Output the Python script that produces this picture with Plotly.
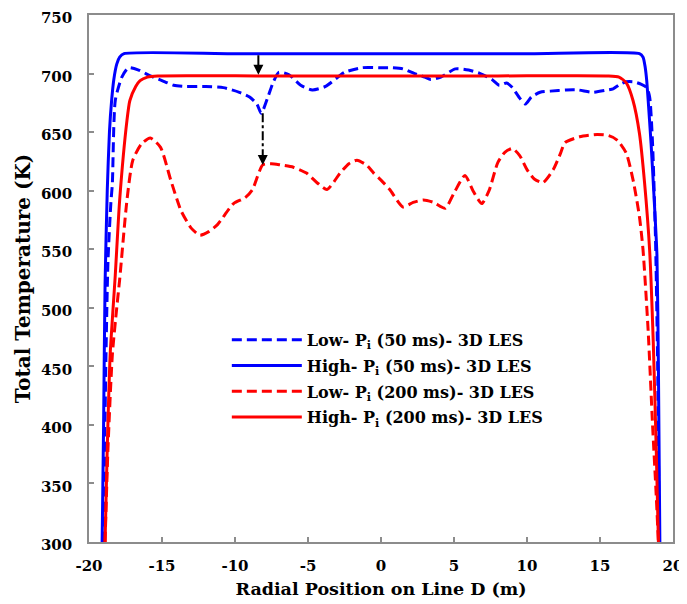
import plotly.graph_objects as go

# ---------------- data ----------------
x_ticks = [-20, -15, -10, -5, 0, 5, 10, 15, 20]
x_ticktext = ["-20", "-15", "-10", "-5", "0", "5", "10", "15", "20"]
y_ticks = [300, 350, 400, 450, 500, 550, 600, 650, 700, 750]

series_names = [
    "Low- P<sub>i</sub> (50 ms)- 3D LES",
    "High- P<sub>i</sub> (50 ms)- 3D LES",
    "Low- P<sub>i</sub> (200 ms)- 3D LES",
    "High- P<sub>i</sub> (200 ms)- 3D LES",
]

low50_x = [-19.0, -18.85, -18.7, -18.5, -18.4, -18.2, -17.75, -17.3, -16.6, -15.8, -15.0, -14.2,
           -13.5, -12.0, -10.8, -9.7, -9.0, -8.5, -8.2, -7.8, -7.4, -7.0, -6.3, -5.5, -4.7, -3.8,
           -2.5, -1.3, 0.0, 0.8, 1.5, 2.3, 3.0, 3.4, 4.1, 5.1, 6.0, 6.8, 7.6, 8.1, 8.6, 9.0, 9.5,
           9.9, 10.3, 10.9, 11.6, 12.7, 13.5, 14.5, 15.5, 15.9, 16.4, 16.8, 17.3, 17.8, 18.2, 18.4,
           18.6, 18.8, 18.95, 19.05]
low50_y = [300, 450, 540, 590, 606, 677, 697, 705, 703, 698, 694, 690,
           689, 689, 688, 684, 680, 674, 666, 678, 692, 701, 699, 690, 686, 689,
           701, 705, 705, 705, 704, 700, 697, 695, 697, 704, 703, 700, 695, 690, 692, 688, 679,
           674, 680, 684, 685, 686, 686, 684, 686, 687, 691, 693, 693, 691, 688, 680,
           640, 560, 450, 300]

high50_x = [-19.1, -19.0, -18.9, -18.75, -18.6, -18.45, -18.3, -18.1, -17.9, -17.6, -10.0, 0.0,
            10.0, 17.7, 17.95, 18.1, 18.2, 18.3, 18.5, 18.7, 18.9, 19.0, 19.1]
high50_y = [300, 400, 520, 600, 650, 677, 695, 708, 714, 717, 717, 717,
            717, 717, 714, 705, 694, 677, 640, 595, 545, 450, 300]

low200_x = [-18.9, -18.7, -18.4, -18.1, -17.9, -17.4, -17.0, -16.4, -15.8, -15.1, -14.4, -13.7,
            -13.0, -12.4, -11.8, -11.2, -10.1, -9.3, -8.8, -8.1, -7.5, -6.9, -6.0, -5.1, -4.4,
            -3.7, -2.8, -2.2, -1.65, -1.0, -0.5, 0.0, 0.6, 1.5, 2.2, 2.9, 3.6, 4.4, 5.0, 5.75,
            6.3, 6.9, 7.4, 8.0, 8.5, 9.0, 9.5, 10.0, 10.5, 11.1, 11.8, 12.3, 12.6, 13.6, 14.8,
            15.6, 16.2, 16.8, 17.3, 17.7, 17.95, 18.3, 18.6, 18.85, 19.0]
low200_y = [300, 380, 460, 500, 524, 592, 626, 640, 645, 637, 609, 583,
            568, 562, 565, 571, 589, 594, 601, 622, 623, 622, 620, 615, 607,
            601, 615, 623, 626, 622, 615, 609, 601, 586, 590, 592, 590, 585, 598, 613,
            600, 589, 600, 624, 633, 636, 630, 618, 610, 607, 618, 632, 641, 646, 648,
            647, 643, 632, 607, 578, 549, 480, 400, 340, 300]

high200_x = [-18.9, -18.75, -18.55, -18.2, -17.9, -17.4, -17.2, -16.8, -16.5, -16.0, -15.3, -8.0,
             0.0, 8.0, 15.5, 16.3, 16.8, 17.26, 17.7, 18.05, 18.4, 18.65, 18.85, 19.0]
high200_y = [300, 380, 460, 528, 592, 660, 677, 689, 694, 697, 698, 698,
             698, 698, 698, 697, 692, 677, 649, 607, 549, 470, 380, 300]

# arrows: (x, y_start, y_end)
arrow_solid = (-8.4, 717, 699)
arrow_dashed = (-8.1, 666, 622)

BLUE = "#0000FF"
RED = "#FF0000"
FONT = "DejaVu Serif"

fig = go.Figure()
styles = [
    (low50_x, low50_y, BLUE, "10px,5px"),
    (high50_x, high50_y, BLUE, "solid"),
    (low200_x, low200_y, RED, "10px,5px"),
    (high200_x, high200_y, RED, "solid"),
]
for i, (name, (xs, ys, col, dash)) in enumerate(zip(series_names, styles)):
    fig.add_trace(go.Scatter(
        x=xs, y=ys, name=name, mode="lines", legendgroup=f"g{i}",
        line=dict(color=col, width=3, dash=dash, shape="spline", smoothing=0.6),
    ))

# solid arrow
fig.add_annotation(x=arrow_solid[0], y=arrow_solid[2], ax=arrow_solid[0], ay=arrow_solid[1],
                   xref="x", yref="y", axref="x", ayref="y", text="", showarrow=True,
                   arrowhead=2, arrowsize=1, arrowwidth=2, arrowcolor="black")
# dashed arrow: dashed shaft + head
fig.add_shape(type="line", xref="x", yref="y",
              x0=arrow_dashed[0], x1=arrow_dashed[0], y0=arrow_dashed[1], y1=arrow_dashed[2] + 4,
              line=dict(color="black", width=2, dash="dashdot"))
fig.add_annotation(x=arrow_dashed[0], y=arrow_dashed[2], ax=arrow_dashed[0], ay=arrow_dashed[2] + 6,
                   xref="x", yref="y", axref="x", ayref="y", text="", showarrow=True,
                   arrowhead=2, arrowsize=1, arrowwidth=2, arrowcolor="black")

axis_common = dict(
    showgrid=False, zeroline=False, showline=True, linecolor="#8c8c8c", linewidth=1.5,
    mirror=True, ticks="inside", ticklen=5, tickcolor="#8c8c8c", tickwidth=1.5,
    automargin=False, ticklabeloverflow="allow",
    tickfont=dict(family=FONT, size=15, color="black", weight="bold"),
)
fig.update_xaxes(range=[-20, 20], tickvals=x_ticks, ticktext=x_ticktext,
                 title=dict(text="Radial Position on Line D (m)", standoff=9,
                            font=dict(family=FONT, size=17.5, color="black", weight="bold")),
                 ticklabelstandoff=9, **axis_common)
fig.update_yaxes(range=[300, 750], tickvals=y_ticks,
                 title=dict(text="Total Temperature (K)", standoff=5,
                            font=dict(family=FONT, size=20, color="black", weight="bold")),
                 ticklabelstandoff=12, ticklabelshift=3, **axis_common)

# the page body adds an 8px offset; size the figure so the plot lands where the reference has it
fig.update_layout(
    width=687, height=596,
    margin=dict(l=81, r=22, t=7, b=62),
    plot_bgcolor="white", paper_bgcolor="white",
    font=dict(family=FONT, color="black", weight="bold"),
    legend=dict(x=0.236, y=0.416, xanchor="left", yanchor="top",
                bgcolor="rgba(0,0,0,0)", itemwidth=70, tracegroupgap=2,
                font=dict(family=FONT, size=16, color="black", weight="bold")),
)

fig.write_html("out.html")
